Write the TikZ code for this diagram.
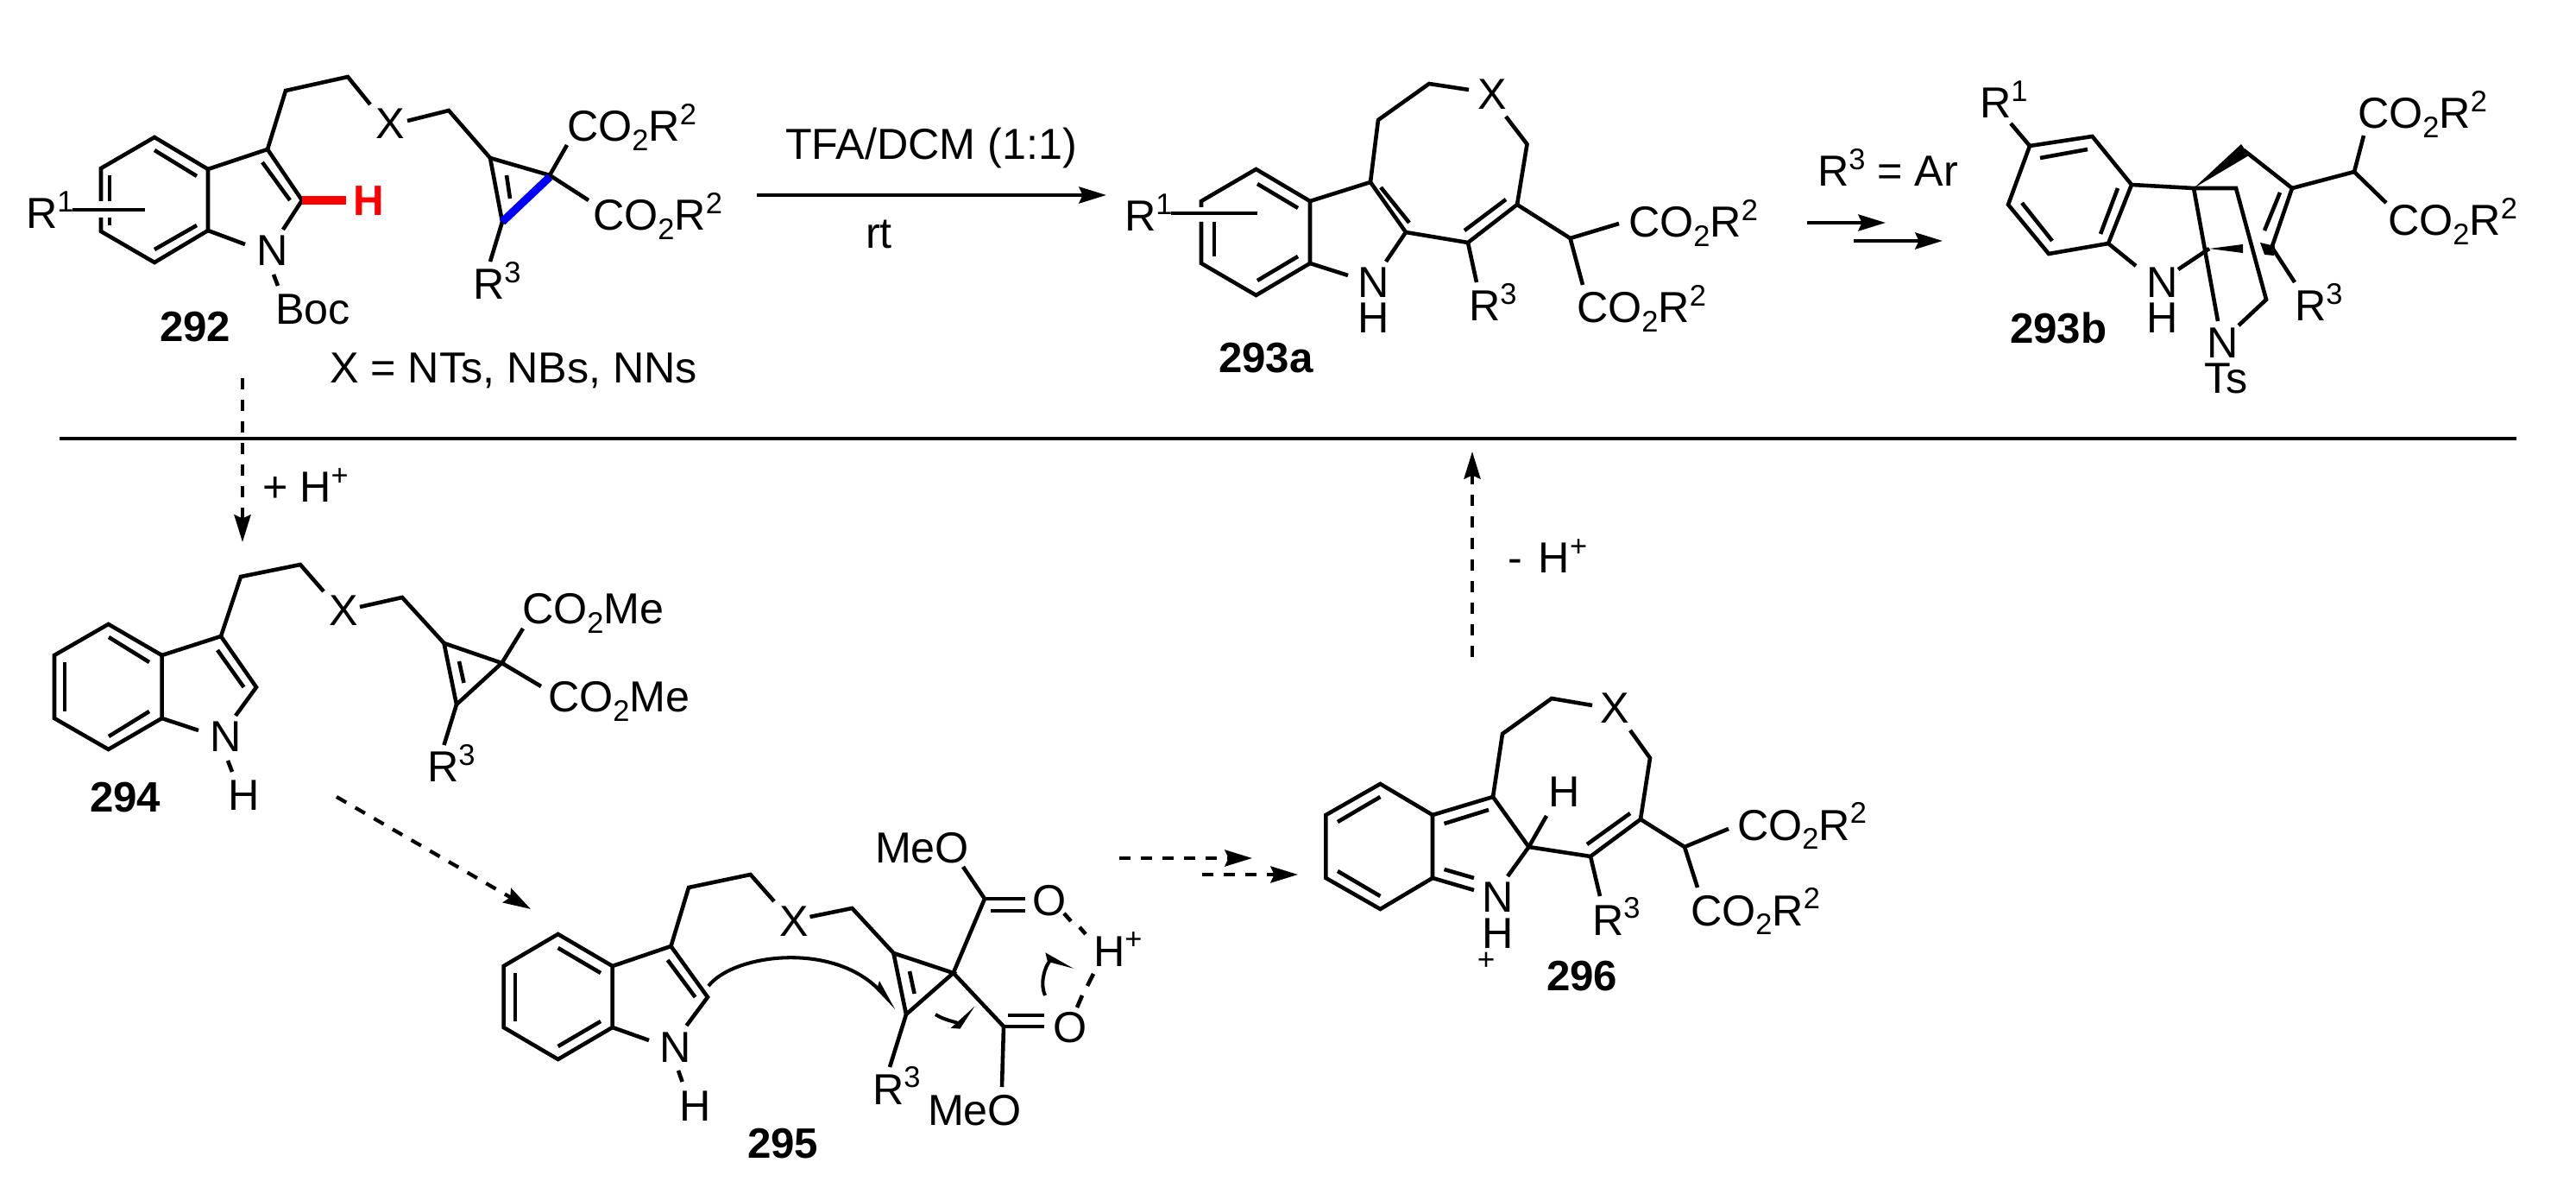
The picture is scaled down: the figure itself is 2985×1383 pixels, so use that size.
\documentclass[tikz,border=0pt]{standalone}
\usepackage{fontspec}
\setmainfont{Liberation Sans}
\usetikzlibrary{arrows.meta}
\newcommand{\supt}[1]{\raisebox{5.5pt}{\fontsize{9.8}{9.8}\selectfont #1}}
\newcommand{\subt}[1]{\raisebox{-3pt}{\fontsize{9.8}{9.8}\selectfont #1}}
\newcommand{\coor}{CO\subt{2}R\supt{2}}
\newcommand{\come}{CO\subt{2}Me}
\tikzset{
  bond/.style={line width=1.3pt,line join=miter,line cap=butt},
  lab/.style={anchor=base west,inner sep=0pt,outer sep=0pt,font=\fontsize{14.3}{16}\selectfont},
  cpd/.style={anchor=base west,inner sep=0pt,outer sep=0pt,font=\fontsize{14}{16}\selectfont\bfseries},
  rxn/.style={line width=1.2pt,-{Stealth[length=9pt,width=5.4pt,inset=1.2pt]}},
  dashrxn/.style={rxn,dash pattern=on 0.13cm off 0.12cm},
  curly/.style={line width=1.15pt,-{Stealth[length=8pt,width=4pt,inset=1pt,left]}},
}
\begin{document}
\begin{tikzpicture}[x=0.01cm,y=-0.01cm]
\useasboundingbox (0,0) rectangle (2985,1383);
\fill[white] (0,0) rectangle (2985,1383);
%% separator
\coordinate (sepL) at (69,508); \coordinate (sepR) at (2916,508);
\draw[line width=1.2pt] (sepL) -- (sepR);

%% ---------- 292
\draw[bond] (117,233) -- (117,195) -- (179,159) -- (241,196) -- (241,267) -- (179,304) -- (117,268) -- (117,252);
\draw[bond] (179,174) -- (228,204);
\draw[bond] (179,289) -- (228,261);
\draw[bond] (127,203) -- (127,233) (127,252) -- (127,261);
\draw[bond] (84,243) -- (168,243);
\draw[bond] (241,196) -- (310,173) -- (350,232) -- (328,266);
\draw[bond] (304,188) -- (336,232);
\draw[bond] (241,267) -- (284,283);
\draw[bond] (317,318) -- (322,331);
\draw[bond] (310,173) -- (331,105) -- (403,89) -- (429,121);
\draw[bond] (472,140) -- (520,128) -- (568,183) -- (637,203);
\draw[bond] (568,183) -- (582,257);
\draw[bond] (587,203) -- (591,230);
\draw[bond] (637,203) -- (657,168);
\draw[bond] (637,203) -- (682,232);
\draw[bond] (582,257) -- (568,303);
\draw[line width=2.6pt,blue] (637,205) -- (582,257);
\draw[line width=2.8pt,red] (350,232) -- (401,232);
\node[lab] (a1) at (30,265) {R\supt{1}};
\node[lab] (a2) at (297,308) {N};
\node[lab] (a3) at (319,376) {Boc};
\node[lab] (a4) at (435,161) {X};
\node[lab] (a5) at (657,164) {\coor};
\node[lab] (a6) at (687,267) {\coor};
\node[lab] (a7) at (548,347) {R\supt{3}};
\node[cpd,text=red] (a8) at (409,250) {H};
\node[cpd] (a9) at (185,396) {292};
\node[lab] (a10) at (382,444) {X = NTs, NBs, NNs};

%% main arrow
\coordinate (m1) at (877,226); \coordinate (m2) at (1282,226);
\draw[rxn] (m1) -- (m2);
\node[lab] (m3) at (910,185) {TFA/DCM (1:1)};
\node[lab] (m4) at (1003,288) {rt};

%% ---------- 293a
\draw[bond] (1392,240) -- (1392,233) -- (1455.5,196) -- (1518,233) -- (1518,305) -- (1455.5,342) -- (1392,305) -- (1392,257);
\draw[bond] (1457,213) -- (1504,241);
\draw[bond] (1457,325) -- (1504,297);
\draw[bond] (1407,257) -- (1407,297);
\draw[bond] (1357,247) -- (1457,247);
\draw[bond] (1518,233) -- (1588,211) -- (1629,269) -- (1606,303);
\draw[bond] (1600,217) -- (1633,258);
\draw[bond] (1518,305) -- (1562,319);
\draw[bond] (1588,211) -- (1597,139) -- (1656,97) -- (1702,104);
\draw[bond] (1745,135) -- (1769.5,167) -- (1758,237) -- (1701,281) -- (1629,269);
\draw[bond] (1745,231) -- (1697,267);
\draw[bond] (1701,281) -- (1711,327);
\draw[bond] (1758,237) -- (1819.5,276) -- (1876,259);
\draw[bond] (1819.5,276) -- (1834,330);
\node[lab] (b1) at (1303,268) {R\supt{1}};
\node[lab] (b2) at (1573,345) {N};
\node[lab] (b3) at (1573,386) {H};
\node[lab] (b4) at (1712,127) {X};
\node[lab] (b5) at (1702,372) {R\supt{3}};
\node[lab] (b6) at (1887,275) {\coor};
\node[lab] (b7) at (1827,374) {\coor};
\node[cpd] (b8) at (1412,432) {293a};

%% R3 = Ar arrows
\node[lab] (c0) at (2106,216) {R\supt{3} = Ar};
\coordinate (c1) at (2094,258); \coordinate (c2) at (2185,258);
\coordinate (c3) at (2148,279); \coordinate (c4) at (2251,279);
\draw[rxn] (c1) -- (c2);
\draw[rxn] (c3) -- (c4);

%% ---------- 293b
\draw[bond] (2330,143) -- (2352,169);
\draw[bond] (2352,169) -- (2424.5,158) -- (2470,214) -- (2443,282) -- (2374,294) -- (2327,237) -- cycle;
\draw[bond] (2364,183) -- (2419,173);
\draw[bond] (2454,218) -- (2434,271);
\draw[bond] (2343,235) -- (2378,279);
\draw[bond] (2470,214) -- (2542,218) -- (2591,218) -- (2626,347) -- (2594,377);
\draw[bond] (2542,218) -- (2570,372);
\fill (2542,218) -- (2597,167) -- (2606,180) -- cycle;
\draw[bond] (2600,174) -- (2656,218) -- (2633,285);
\draw[bond] (2642,223) -- (2624,267);
\draw[bond] (2656,218) -- (2728,199) -- (2739,157);
\draw[bond] (2728,199) -- (2765,235);
\draw[bond] (2443,282) -- (2475,308);
\draw[bond] (2560,288) -- (2524,312);
\fill (2560,288) -- (2599,283) -- (2599,293) -- cycle;
\fill (2619,281) -- (2636,285) -- (2635,296) -- (2624,295) -- cycle;
\draw[bond] (2633,287) -- (2659,327);
\node[lab] (d1) at (2294,137) {R\supt{1}};
\node[lab] (d2) at (2732,149) {\coor};
\node[lab] (d3) at (2767,273) {\coor};
\node[lab] (d4) at (2487,345) {N};
\node[lab] (d5) at (2487,386) {H};
\node[lab] (d6) at (2557,415) {N};
\node[lab] (d7) at (2554,456) {Ts};
\node[lab] (d8) at (2659,372) {R\supt{3}};
\node[cpd] (d9) at (2329,398) {293b};

%% dashed + H+
\coordinate (e1) at (281,438); \coordinate (e2) at (281,628);
\draw[dashrxn] (e1) -- (e2);
\node[lab] (e3) at (304,582) {+ H\supt{+}};

%% ---------- 294
\draw[bond] (125.6,723) -- (187.6,759) -- (187.6,832) -- (125.6,868) -- (63,832) -- (63,759) -- cycle;
\draw[bond] (126,738) -- (173,767);
\draw[bond] (75,767) -- (75,824);
\draw[bond] (126,853) -- (173,824);
\draw[bond] (187.6,759) -- (256,737) -- (297,796) -- (273,829);
\draw[bond] (252,753) -- (282.5,796);
\draw[bond] (187.6,832) -- (230,846);
\draw[bond] (264,881) -- (269,894);
\draw[bond] (256,737) -- (279,668) -- (348,654) -- (375,685);
\draw[bond] (417,703) -- (466,692) -- (514.5,745);
\draw[bond] (514.5,745) -- (581.5,768) -- (529,816) -- cycle;
\draw[bond] (532,766) -- (537.5,791);
\draw[bond] (581.5,768) -- (606,728);
\draw[bond] (581.5,768) -- (627,795);
\draw[bond] (529,816) -- (514.5,863);
\node[lab] (f1) at (243,871) {N};
\node[lab] (f2) at (264,939) {H};
\node[lab] (f3) at (381,725) {X};
\node[lab] (f4) at (605,723) {\come};
\node[lab] (f5) at (635,825) {\come};
\node[lab] (f6) at (495,906) {R\supt{3}};
\node[cpd] (f7) at (104,940) {294};

%% dashed 294 -> 295
\coordinate (g1) at (390,923); \coordinate (g2) at (615,1053);
\draw[dashrxn] (g1) -- (g2);

%% ---------- 295
\draw[bond] (646.6,1082) -- (709.7,1119) -- (709.7,1190) -- (646.6,1227) -- (583.6,1190) -- (583.6,1119) -- cycle;
\draw[bond] (646.6,1098) -- (696,1127);
\draw[bond] (597,1127) -- (597,1183);
\draw[bond] (646.6,1212) -- (696,1183);
\draw[bond] (709.7,1119) -- (777.5,1096) -- (820,1155) -- (795.5,1188);
\draw[bond] (773.6,1112) -- (805.6,1155);
\draw[bond] (709.7,1190) -- (752,1205);
\draw[bond] (786,1240) -- (790.6,1253);
\draw[bond] (777.5,1096) -- (798,1028) -- (869.6,1013) -- (897,1044);
\draw[bond] (938.5,1062) -- (987.4,1052) -- (1035.4,1104);
\draw[bond] (1035.4,1104) -- (1104.7,1127) -- (1050,1175) -- cycle;
\draw[bond] (1054,1125) -- (1059.6,1151);
\draw[bond] (1050,1175) -- (1031,1236);
\draw[bond] (1104.7,1127) -- (1141,1041) -- (1116,1004);
\draw[bond] (1141,1041) -- (1188,1041);
\draw[bond] (1148,1055) -- (1188,1055);
\draw[bond] (1104.7,1127) -- (1163,1189) -- (1161,1259);
\draw[bond] (1163,1189) -- (1210,1189);
\draw[bond] (1168,1176) -- (1210,1176);
\draw[bond] (1233,1058) -- (1241,1067);
\draw[bond] (1251,1074) -- (1258,1082);
\draw[bond] (1267,1128) -- (1260,1142);
\draw[bond] (1254,1153) -- (1248,1167);
\draw[curly] (821,1142) .. controls (850,1105) and (965,1090) .. (1039,1168);
\draw[curly] (1084,1175) .. controls (1098,1184) and (1115,1184) .. (1128,1164);
\draw[curly] (1211,1153) .. controls (1203,1135) and (1215,1112) .. (1245,1120);
\node[lab] (h1) at (764,1230) {N};
\node[lab] (h2) at (787,1298) {H};
\node[lab] (h3) at (903,1084) {X};
\node[lab] (h4) at (1014,999) {MeO};
\node[lab] (h5) at (1196,1060) {O};
\node[lab] (h6) at (1220,1207) {O};
\node[lab] (h7) at (1267,1119) {H\supt{+}};
\node[lab] (h8) at (1011,1279) {R\supt{3}};
\node[lab] (h9) at (1075,1303) {MeO};
\node[cpd] (h10) at (866,1341) {295};

%% dashed 295 -> 296
\coordinate (i1) at (1297,994); \coordinate (i2) at (1451,994);
\coordinate (i3) at (1393,1013); \coordinate (i4) at (1504,1013);
\draw[dashrxn] (i1) -- (i2);
\draw[dashrxn] (i3) -- (i4);

%% ---------- 296
\draw[bond] (1599.4,908) -- (1660,944) -- (1660,1017) -- (1599.4,1053) -- (1536.4,1017) -- (1536.4,944) -- cycle;
\draw[bond] (1599.4,923) -- (1550,952);
\draw[bond] (1550,1009) -- (1599.4,1038);
\draw[bond] (1660,944) -- (1730,923) -- (1771.5,981) -- (1747,1015);
\draw[bond] (1673.5,954) -- (1725,938);
\draw[bond] (1660,1017) -- (1708,1031);
\draw[bond] (1673.5,1007) -- (1708,1017);
\draw[bond] (1771.5,981) -- (1792,945);
\draw[bond] (1730,923) -- (1741,850) -- (1798,809) -- (1845,817);
\draw[bond] (1889,846) -- (1912,878) -- (1901,949) -- (1843,992) -- (1771.5,981);
\draw[bond] (1889,942) -- (1839,978);
\draw[bond] (1843,992) -- (1854,1038);
\draw[bond] (1901,949) -- (1952,981) -- (2003,960);
\draw[bond] (1952,981) -- (1967,1028);
\node[lab] (j1) at (1717,1056) {N};
\node[lab] (j2) at (1717,1098) {H};
\node[inner sep=0pt,font=\fontsize{10}{10}\selectfont] (j3) at (1722,1113) {+};
\node[lab] (j4) at (1794,935) {H};
\node[lab] (j5) at (1854,838) {X};
\node[lab] (j6) at (1845,1083) {R\supt{3}};
\node[lab] (j7) at (2013,973) {\coor};
\node[lab] (j8) at (1959,1072) {\coor};
\node[cpd] (j9) at (1792,1147) {296};

%% - H+
\coordinate (k1) at (1706,761); \coordinate (k2) at (1706,523);
\draw[dashrxn] (k1) -- (k2);
\node[lab] (k3) at (1747,664) {- \hspace{0.1em}H\supt{+}};
\end{tikzpicture}
\end{document}
